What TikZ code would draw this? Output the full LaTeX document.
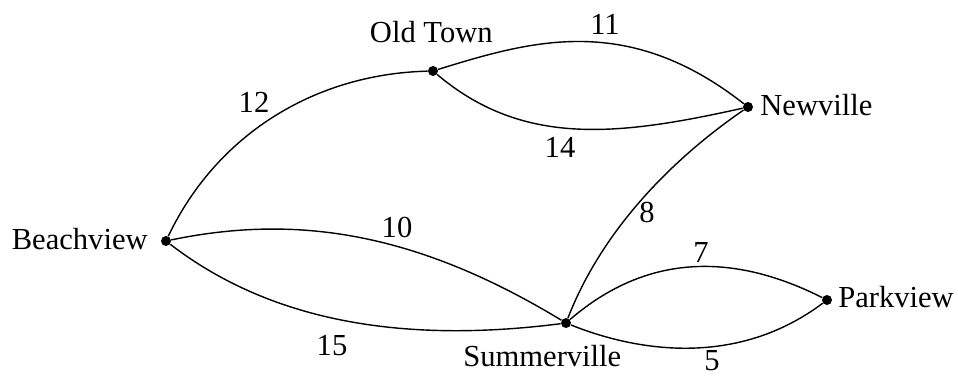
\documentclass[tikz,border=0pt]{standalone}
\usepackage{fontspec}
\setmainfont{Liberation Serif}
\begin{document}
\begin{tikzpicture}[x=0.02cm,y=-0.02cm,
  vtx/.style={circle,fill=black,inner sep=0pt,minimum size=0.2cm},
  lbl/.style={inner sep=0pt,font=\fontsize{17.4pt}{20pt}\selectfont},
  edge/.style={line width=0.8pt}]
\useasboundingbox (0,0) rectangle (958,376);
% vertices
\node[vtx] (ot) at (433,71) {};
\node[vtx] (nv) at (748,107) {};
\node[vtx] (bv) at (166,241) {};
\node[vtx] (sv) at (566,323) {};
\node[vtx] (pv) at (827,300) {};
% vertex names
\node[lbl,anchor=base east] (tot) at (493,42) {Old Town};
\node[lbl,anchor=base west] (tnv) at (760,115) {Newville};
\node[lbl,anchor=base east] (tbv) at (148,249) {Beachview};
\node[lbl,anchor=base west] (tsv) at (463,366) {Summerville};
\node[lbl,anchor=base west] (tpv) at (838,307) {Parkview};
% edges
\draw[edge] (bv) .. controls +(50,-105) and +(-120,3) .. (ot);
\draw[edge] (ot) .. controls +(100,-31) and +(-120,-94) .. (nv);
\draw[edge] (ot) .. controls +(90,76) and +(-130,29) .. (nv);
\draw[edge] (bv) .. controls +(130,-27) and +(-150,-91) .. (sv);
\draw[edge] (bv) .. controls +(95,73) and +(-180,23) .. (sv);
\draw[edge] (sv) .. controls +(35,-90) and +(-80,55) .. (nv);
\draw[edge] (sv) .. controls +(80,-69) and +(-95,-48) .. (pv);
\draw[edge] (sv) .. controls +(75,30) and +(-88,66) .. (pv);
% weights
\node[lbl,anchor=base] (w11) at (605,34) {11};
\node[lbl,anchor=base] (w14) at (560,157) {14};
\node[lbl,anchor=base] (w12) at (254,112) {12};
\node[lbl,anchor=base] (w10) at (397,237) {10};
\node[lbl,anchor=base] (w8) at (647,222) {8};
\node[lbl,anchor=base] (w7) at (701,262) {7};
\node[lbl,anchor=base] (w15) at (332,355) {15};
\node[lbl,anchor=base,text depth=0pt] (w5) at (712,370) {5};
\end{tikzpicture}
\end{document}
